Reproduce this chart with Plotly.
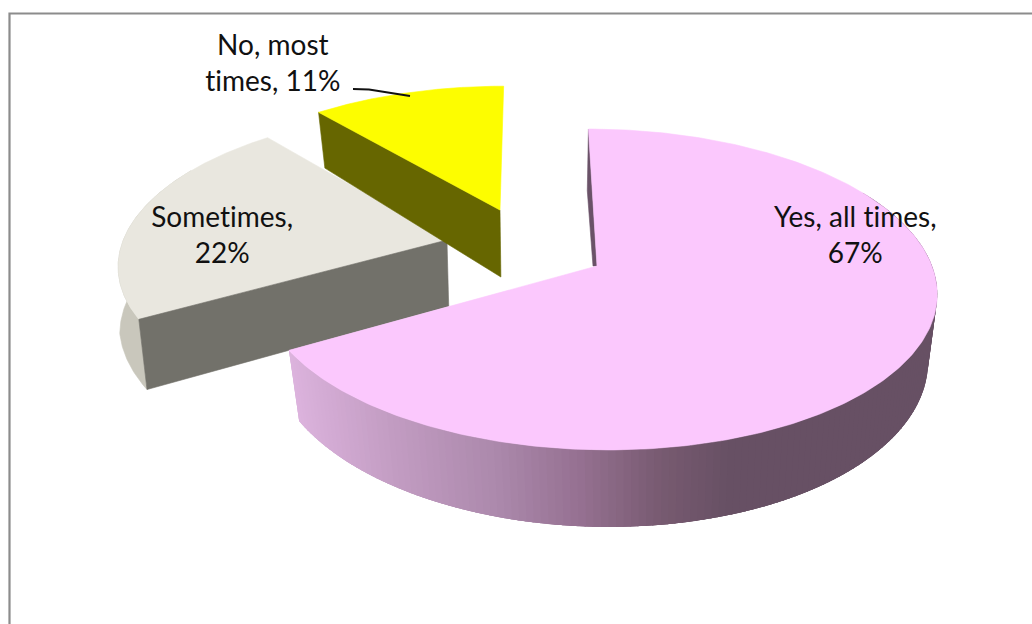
import numpy as np
import plotly.graph_objects as go

# ---- chart data ----
categories = ["Yes, all times", "Sometimes", "No, most times"]
values = [66.7, 22.2, 11.1]
label_lines = ["Yes, all times,<br>{}%", "Sometimes,<br>{}%", "No, most<br>times, {}%"]

# ---- styling and projection ----
W, H = 1032, 624
XC, YC, S, A, P = 530.0, 266.0, 335.0, 157.0, 0.1464
pulls = [(0.2, 0.0), (-0.254, -0.1697), (-0.0945, -0.376)]
radii = [1.0, 0.99, 1.0]
# bottom plane per slice: x centre, x scale, y scale, drop
bottoms = [(533.0, 325.0, 167.0, 65.3), (530.0, 328.0, 165.0, 67.5), (530.0, 325.0, 175.0, 73.4)]
top_colors = ["#fbc8fd", "#e9e7df", "#fdfd00"]
face_colors = ["#6a5268", "#72716a", "#666600"]
label_pos = [(855, 234), (222, 234), (273, 62)]
FONT = "Lato"
FONT_SIZE = 28

# wall gradient of the large slice, by horizontal pixel
grad_x = [297, 400, 500, 580, 660, 730, 940]
grad_r = [221, 194, 172, 150, 120, 103, 103]
grad_g = [180, 156, 137, 113, 91, 80, 80]
grad_b = [222, 194, 172, 146, 113, 100, 100]


def top_pt(U, V):
    d = 1 - P * V
    return XC + S * U / d, YC + A * V / d


def bot_pt(U, V, b):
    d = 1 - P * V
    return b[0] + b[1] * U / d, YC + b[3] + b[2] * V / d


def rim(i, t0, t1, n=120):
    t = np.radians(np.linspace(t0, t1, n))
    return pulls[i][0] + radii[i] * np.sin(t), pulls[i][1] - radii[i] * np.cos(t)


fig = go.Figure()


def poly(x, y, color, lw=0.6):
    fig.add_trace(go.Scatter(
        x=list(x) + [x[0]], y=list(y) + [y[0]], mode="lines", fill="toself",
        fillcolor=color, line=dict(color=color, width=lw),
        hoverinfo="skip", showlegend=False))


def top_face(i, t0, t1):
    U, V = rim(i, t0, t1, 300)
    x, y = top_pt(U, V)
    ax, ay = top_pt(*pulls[i])
    poly([ax] + list(x), [ay] + list(y), top_colors[i])


def cut_face(i, t):
    U, V = rim(i, t, t, 2)
    x0, y0 = top_pt(*pulls[i])
    x1, y1 = top_pt(U[0], V[0])
    x2, y2 = bot_pt(U[0], V[0], bottoms[i])
    x3, y3 = bot_pt(*pulls[i], bottoms[i])
    poly([x0, x1, x2, x3], [y0, y1, y2, y3], face_colors[i])


angles = np.cumsum([0] + values) * 3.6

# grey slice: the outer wall flares slightly toward the left
ts = np.linspace(angles[1], angles[1] + 60, 120)
U, V = rim(1, angles[1], angles[1] + 60)
xt, yt = top_pt(U, V)
xb, yb = bot_pt(U, V, bottoms[1])
xb = xb - 7.0 * np.clip((ts - angles[1]) / 20.0, 0, 1)
poly(list(xt) + list(xb[::-1]), list(yt) + list(yb[::-1]), "#c9c7bc")
top_face(1, angles[1], angles[2])
cut_face(1, angles[1])

# yellow slice
cut_face(2, angles[2])
top_face(2, angles[2], angles[3])

# pink wall as a run of narrow overlapping quads, shaded by position
edges = np.linspace(60, angles[1], 160)
for k, (a, b) in enumerate(zip(edges[:-1], edges[1:])):
    end = min(b + 2.5, angles[1])
    U, V = rim(0, a, end, 5)
    xt, yt = top_pt(U, V)
    xb, yb = bot_pt(U, V, bottoms[0])
    Um, Vm = rim(0, a, b, 2)
    mx = float(np.mean(bot_pt(Um, Vm, bottoms[0])[0]))
    c = [int(np.interp(mx, grad_x, g)) for g in (grad_r, grad_g, grad_b)]
    poly(list(xt) + list(xb[::-1]), list(yt) + list(yb[::-1]), "rgb({},{},{})".format(*c), lw=0)

# narrow inner wall of the pink slice at its start edge
ax, ay = top_pt(*pulls[0])
Ue, Ve = rim(0, angles[0], angles[0], 2)
ex, ey = top_pt(Ue[0], Ve[0])
fr = np.array([0.0, 0.45, 1.0])
lx = ex + (ax - ex) * fr + np.array([0.0, -5.0, -4.0])
ly = ey + (ay - ey) * fr
poly(list(lx) + [ax, ex], list(ly) + [ay, ey], face_colors[0])
top_face(0, angles[0], angles[1])

# leader line
fig.add_trace(go.Scatter(x=[353, 369, 410], y=[89, 89.5, 96], mode="lines",
                         line=dict(color="#111111", width=2),
                         hoverinfo="skip", showlegend=False))

for tmpl, v, (lx_, ly_) in zip(label_lines, values, label_pos):
    fig.add_annotation(x=lx_, y=ly_, text=tmpl.format(round(v)), showarrow=False,
                       xanchor="center", yanchor="middle", align="center",
                       font=dict(family=FONT, size=FONT_SIZE, color="#111111"))

fig.add_shape(type="path", path=f"M 9.5 {H} L 9.5 13.5 L {W} 13.5",
              line=dict(color="#8c8c8c", width=2.2), layer="above")

fig.update_layout(
    width=W, height=H, margin=dict(l=0, r=0, t=0, b=0),
    paper_bgcolor="white", plot_bgcolor="white", showlegend=False,
    xaxis=dict(range=[0, W], visible=False, fixedrange=True),
    yaxis=dict(range=[H, 0], visible=False, fixedrange=True),
)
post = ("document.body.style.margin='0';"
        "var st=document.createElement('style');"
        "st.textContent='text,tspan{font-variant-ligatures:none !important;"
        "font-feature-settings:\"liga\" 0,\"clig\" 0,\"calt\" 0 !important;letter-spacing:0.02px;}';"
        "document.head.appendChild(st);")
fig.write_html("out.html", post_script=post, config={"displayModeBar": False})
